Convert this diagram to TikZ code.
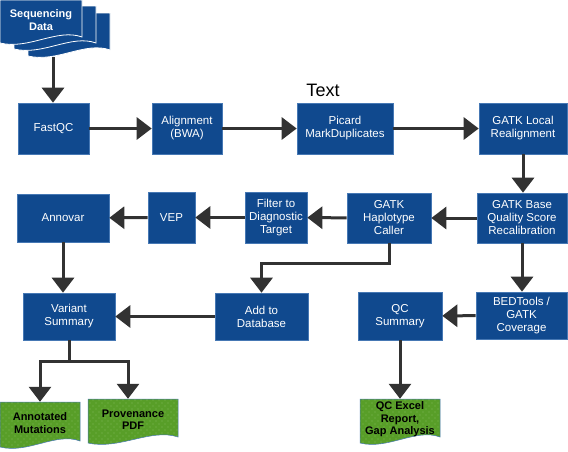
\documentclass[tikz,border=0pt]{standalone}
\usepackage{fontspec}
\setmainfont{Liberation Sans}
\usetikzlibrary{arrows.meta,patterns,calc}
\definecolor{boxblue}{RGB}{16,73,142}
\definecolor{boxedge}{RGB}{70,120,180}
\definecolor{arrowgray}{RGB}{50,50,50}
\definecolor{docgreen}{RGB}{88,158,40}
\definecolor{dotgreen}{RGB}{205,232,180}
\pgfdeclarepatternformonly{sparsedots}{\pgfqpoint{-1pt}{-1pt}}{\pgfqpoint{5pt}{5pt}}{\pgfqpoint{6pt}{6pt}}{%
  \pgfpathcircle{\pgfqpoint{0pt}{0pt}}{0.45pt}%
  \pgfpathcircle{\pgfqpoint{3pt}{3pt}}{0.45pt}%
  \pgfusepath{fill}}
\newcommand\docshape[5]{\path[#5] (#1,#2) -- (#3,#2) -- (#3,#4-3) .. controls ({#3-0.3*(#3-#1)},{#4-12}) and ({#1+0.35*(#3-#1)},{#4+10}) .. (#1,#4+3) -- cycle;}
\begin{document}
\begin{tikzpicture}[x=1pt,y=-1pt,
  procbox/.style={draw=boxedge, line width=0.6pt, fill=boxblue, text=white,
    font=\fontsize{11.5}{13}\selectfont, align=center, inner sep=0pt},
  sz/.style 2 args={minimum width=#1, minimum height=#2},
  doclabel/.style={text=black, font=\fontsize{11}{12.5}\selectfont\bfseries, align=center, inner sep=0pt},
  seqdoc/.style={fill=boxblue, draw=white, line width=0.8pt},
  greendoc/.style={fill=docgreen, draw=boxedge, line width=0.5pt},
  greendots/.style={pattern=sparsedots, pattern color=dotgreen},
  flow/.style={draw=arrowgray, line width=3pt, -{Triangle[length=15pt,width=22pt]}},
]
\useasboundingbox (0,0) rectangle (568,451);

% Sequencing data stack
\docshape{28}{13}{110}{53}{seqdoc}
\docshape{14}{6}{96}{46}{seqdoc}
\docshape{0}{0}{82}{40}{seqdoc}
\node[doclabel, text=white] (seq) at (41,20) {Sequencing\\Data};
\coordinate (seqout) at (53,57);

% Text label
\node[font=\fontsize{18}{20}\selectfont] (textlabel) at (323,90) {Text};

% Row 1
\node[procbox, sz={71}{51}] (fastqc) at (53.5,128.5) {FastQC};
\node[procbox, sz={70}{51}] (align) at (187,128.5) {Alignment\\(BWA)};
\node[procbox, sz={96}{51}] (picard) at (345,128.5) {Picard\\MarkDuplicates};
\node[procbox, sz={88}{51}] (local) at (523,128.5) {GATK Local\\Realignment};

% Row 2
\node[procbox, sz={92}{48}] (annovar) at (63,218) {Annovar};
\node[procbox, sz={47}{51}] (vep) at (171.5,217.5) {VEP};
\node[procbox, sz={62}{51}] (filter) at (276,217.5) {Filter to\\Diagnostic\\Target};
\node[procbox, sz={84}{50}] (haplo) at (389,218) {GATK\\Haplotype\\Caller};
\node[procbox, sz={90}{50}] (base) at (522,218) {GATK Base\\Quality Score\\Recalibration};

% Row 3
\node[procbox, sz={92}{47}] (varsum) at (69,316.5) {Variant\\Summary};
\node[procbox, sz={93}{47}] (adddb) at (261.5,316.5) {Add to\\Database};
\node[procbox, sz={84}{48}] (qcsum) at (400,316) {QC\\Summary};
\node[procbox, sz={91}{47}] (bed) at (521.5,315.5) {BEDTools /\\GATK\\Coverage};

% Output documents
\docshape{0}{402}{80}{444}{greendoc}
\docshape{0}{402}{80}{444}{greendots}
\docshape{88}{399}{178}{440}{greendoc}
\docshape{88}{399}{178}{440}{greendots}
\docshape{360}{399}{440}{440}{greendoc}
\docshape{360}{399}{440}{440}{greendots}
\node[doclabel, sz={80}{42}] (annot) at (40,423) {Annotated\\Mutations};
\node[doclabel, sz={90}{41}] (prov) at (133,419.5) {Provenance\\PDF};
\node[doclabel, sz={80}{41}] (qcx) at (400,419.5) {QC Excel\\Report,\\Gap Analysis};

% Connectors
\draw[flow] (seqout) -- (seqout |- fastqc.north);
\draw[flow] (fastqc) -- (align);
\draw[flow] (align) -- (picard);
\draw[flow] (picard) -- (local);
\draw[flow] (local.south) -- (local.south |- base.north);
\draw[flow] (base) -- (haplo);
\draw[flow] (haplo) -- (filter);
\draw[flow] (filter) -- (vep);
\draw[flow] (vep) -- (annovar);
\draw[flow] (haplo.south) -- ++(0,20) -| (adddb.north);
\draw[flow] (annovar.south) -- (annovar.south |- varsum.north);
\draw[flow] (adddb) -- (varsum);
\draw[flow] (base.south) -- (base.south |- bed.north);
\draw[flow] (bed) -- (qcsum);
\draw[flow] (qcsum.south) -- (qcsum.south |- qcx.north);
\draw[flow] (varsum.south) -- ++(0,21) -| (annot.north);
\draw[flow] ($(varsum.south)+(0,21)$) -| ($(prov.north)+(-5,0)$);
\end{tikzpicture}
\end{document}
